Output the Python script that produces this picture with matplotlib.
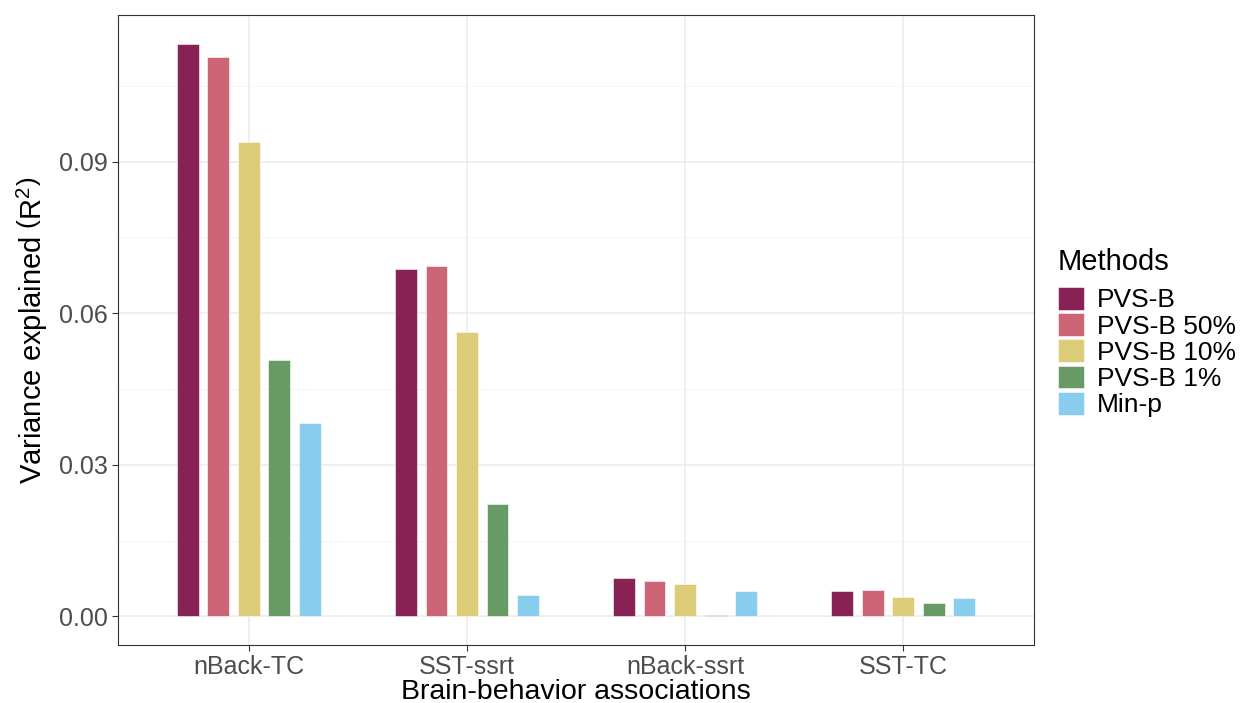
import matplotlib
matplotlib.use('Agg')
import matplotlib.pyplot as plt
import numpy as np
from matplotlib.patches import Patch

plt.rcParams['font.family'] = ['Liberation Sans', 'DejaVu Sans']
plt.rcParams['mathtext.fontset'] = 'custom'
plt.rcParams['mathtext.rm'] = 'Liberation Sans'

associations = ['nBack-TC', 'SST-ssrt', 'nBack-ssrt', 'SST-TC']
methods = ['PVS-B', 'PVS-B 50%', 'PVS-B 10%', 'PVS-B 1%', 'Min-p']
pvs_b = [0.1133, 0.0687, 0.0075, 0.0051]
pvs_b_50 = [0.1106, 0.0694, 0.0070, 0.0053]
pvs_b_10 = [0.0939, 0.0563, 0.0065, 0.0038]
pvs_b_1 = [0.0507, 0.0222, 0.0003, 0.0027]
min_p = [0.0383, 0.0042, 0.0050, 0.0037]
colors = ['#882255', '#CC6677', '#DDCC77', '#689A66', '#88CCEE']

series = [pvs_b, pvs_b_50, pvs_b_10, pvs_b_1, min_p]

fig = plt.figure(figsize=(12.43, 7.03), dpi=100)
ax = fig.add_axes([0.0949, 0.0825, 0.737, 0.896])

x = np.arange(1, len(associations) + 1)
step = 0.14
for i, (vals, col, name) in enumerate(zip(series, colors, methods)):
    ax.bar(x + (i - 2) * step, vals, width=0.1, color=col, edgecolor='white',
           linewidth=0.4, label=name, zorder=3)

ymax = max(max(s) for s in series)
ax.set_xlim(0.4, 4.6)
ax.set_ylim(-0.05 * ymax, 1.05 * ymax)
ax.set_xticks(x)
ax.set_xticklabels(associations)
ax.set_yticks([0.0, 0.03, 0.06, 0.09])
ax.set_yticklabels(['0.00', '0.03', '0.06', '0.09'])
ax.set_yticks([0.015, 0.045, 0.075, 0.105], minor=True)

ax.grid(True, which='major', color='#EBEBEB', linewidth=1.1, zorder=0)
ax.grid(True, which='minor', axis='y', color='#F2F2F2', linewidth=0.6, zorder=0)
ax.set_axisbelow(True)
ax.tick_params(axis='both', which='major', labelsize=18, labelcolor='#4D4D4D',
               color='#333333', length=4, width=0.8)
ax.tick_params(axis='y', which='minor', length=0)
for sp in ax.spines.values():
    sp.set_color('#333333')
    sp.set_linewidth(0.8)

ax.set_xlabel('Brain-behavior associations', fontsize=20.5, labelpad=0)
ax.set_ylabel(r'Variance explained $\left(\mathrm{R^2}\right)$', fontsize=21, labelpad=6)

handles = [Patch(facecolor=c, edgecolor='white', linewidth=0.4) for c in colors]
leg = fig.legend(handles, methods, title='Methods', loc='center left',
                 bbox_to_anchor=(0.8425, 0.527), frameon=False, fontsize=19,
                 title_fontsize=21, handlelength=1.0, handleheight=0.95,
                 handletextpad=0.5, labelspacing=0.03, borderaxespad=0)
leg._legend_box.align = 'left'
leg._legend_box.sep = 8

fig.savefig('out.png', dpi=100)
